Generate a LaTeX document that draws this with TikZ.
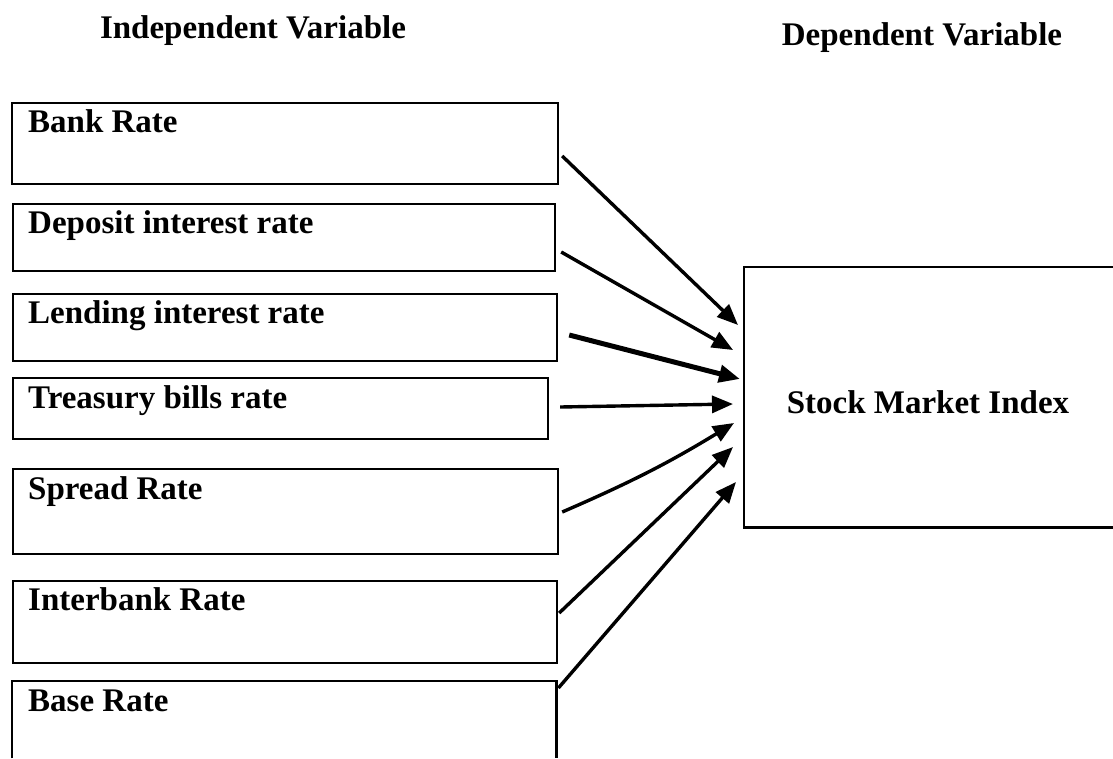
\documentclass[tikz,border=0pt]{standalone}
\usepackage{fontspec}
\setmainfont{Liberation Serif}
\usetikzlibrary{arrows.meta,calc}
\tikzset{
  boxnode/.style={draw=black,line width=2.2pt,rectangle,inner sep=0pt,anchor=north west},
  openbox/.style={draw=none,rectangle,inner sep=0pt,anchor=north west},
  boxline/.style={draw=black,line width=2.2pt},
  lbl/.style={anchor=base west,inner sep=0pt,font=\fontsize{33}{40}\selectfont\bfseries},
  ttl/.style={anchor=base,inner sep=0pt,font=\fontsize{33}{40}\selectfont\bfseries},
  conn/.style={draw=black,line width=3.4pt,-{Triangle[length=21pt,width=17pt]}},
  connthick/.style={conn,line width=5pt}
}
\begin{document}
\begin{tikzpicture}[x=1pt,y=-1pt]
\useasboundingbox[fill=white] (0,0) rectangle (1113,758);
% titles
\node[ttl] (t1) at (253,38) {Independent Variable};
\node[ttl] (t2) at (922,45) {Dependent Variable};
% left boxes
\node[boxnode,minimum width=546pt,minimum height=81pt] (b1) at (11,102) {};
\node[boxnode,minimum width=542pt,minimum height=67pt] (b2) at (12,203) {};
\node[boxnode,minimum width=544pt,minimum height=67pt] (b3) at (12,293) {};
\node[boxnode,minimum width=535pt,minimum height=61pt] (b4) at (12,377) {};
\node[boxnode,minimum width=545pt,minimum height=85pt] (b5) at (12,468) {};
\node[boxnode,minimum width=544pt,minimum height=82pt] (b6) at (12,580) {};
\node[openbox,minimum width=544pt,minimum height=77pt] (b7) at (12,681) {};
\draw[boxline] (b7.south west) -- (b7.north west) -- (b7.north east) -- (b7.south east);
% labels
\node[lbl] (l1) at (28,132) {Bank Rate};
\node[lbl] (l2) at (28,233) {Deposit interest rate};
\node[lbl] (l3) at (28,323) {Lending interest rate};
\node[lbl] (l4) at (28,408) {Treasury bills rate};
\node[lbl] (l5) at (28,499) {Spread Rate};
\node[lbl] (l6) at (28,610) {Interbank Rate};
\node[lbl] (l7) at (28,711) {Base Rate};
% right box
\node[openbox,minimum width=369pt,minimum height=260pt] (sm) at (744,267) {};
\draw[boxline] (sm.north east) -- (sm.north west) -- (sm.south west) -- (sm.south east);
\node[ttl] (smt) at (928,413) {Stock Market Index};
% connectors
\draw[conn] ($(b1.north east)+(3,54)$) -- ($(sm.north west)+(-6,58)$);
\draw[conn] ($(b2.north east)+(5,49)$) -- ($(sm.north west)+(-11,83)$);
\draw[connthick] ($(b3.north east)+(11,42)$) -- ($(sm.north west)+(-4,112)$);
\draw[conn] ($(b4.north east)+(11,30)$) -- ($(sm.north west)+(-11,137)$);
\draw[conn] ($(b5.north east)+(3,44)$) to[bend right=4] ($(sm.north west)+(-10,156)$);
\draw[conn] ($(b6.north east)+(1,33)$) -- ($(sm.north west)+(-11,180)$);
\draw[conn] ($(b7.north east)+(2,7)$) -- ($(sm.north west)+(-8,215)$);
\end{tikzpicture}
\end{document}
